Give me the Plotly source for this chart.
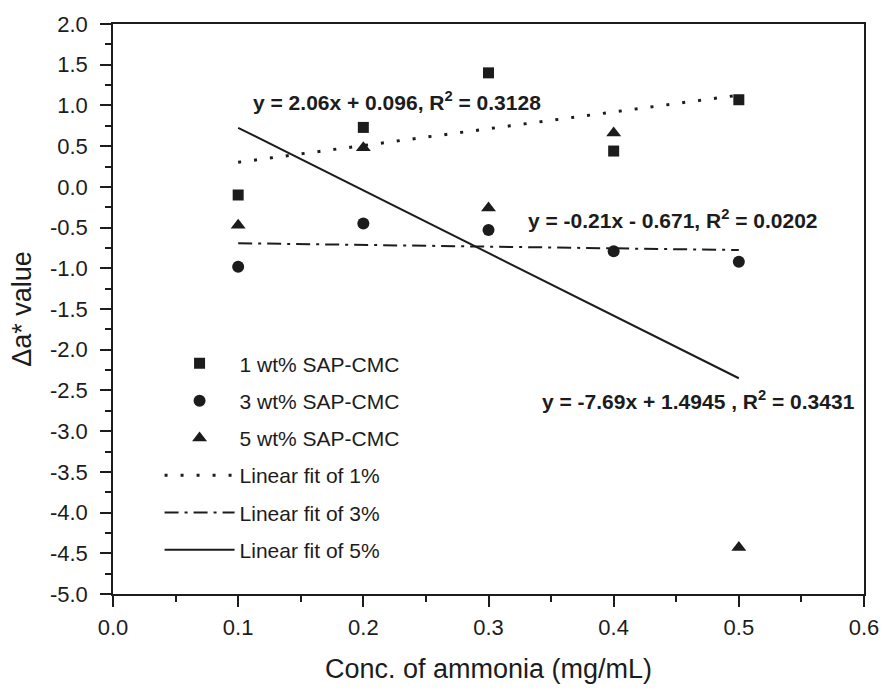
import plotly.graph_objects as go

conc = [0.1, 0.2, 0.3, 0.4, 0.5]
sap1 = [-0.10, 0.73, 1.40, 0.44, 1.07]
sap3 = [-0.98, -0.45, -0.53, -0.79, -0.92]
sap5 = [-0.47, 0.48, -0.26, 0.66, -4.43]

fit_x = [0.1, 0.5]
fit_slopes = [2.06, -0.21, -7.69]
fit_intercepts = [0.096, -0.671, 1.4945]
fit_labels = ["y = 2.06x + 0.096, R<sup>2</sup> = 0.3128",
              "y = -0.21x - 0.671, R<sup>2</sup> = 0.0202",
              "y = -7.69x + 1.4945 , R<sup>2</sup> = 0.3431"]
label_pos = [(0.110, 1.06), (0.330, -0.40), (0.341, -2.62)]

x_ticks = [0.0, 0.1, 0.2, 0.3, 0.4, 0.5, 0.6]
x_ticktext = ["0.0", "0.1", "0.2", "0.3", "0.4", "0.5", "0.6"]
y_ticks = [2.0, 1.5, 1.0, 0.5, 0.0, -0.5, -1.0, -1.5, -2.0, -2.5, -3.0, -3.5, -4.0, -4.5, -5.0]
y_ticktext = ["2.0", "1.5", "1.0", "0.5", "0.0", "-0.5", "-1.0", "-1.5", "-2.0", "-2.5",
              "-3.0", "-3.5", "-4.0", "-4.5", "-5.0"]

ink = "#1c1c1c"
font = "Liberation Sans, Arial, sans-serif"

fig = go.Figure()
for name, ys, sym, sz in [("1 wt% SAP-CMC", sap1, "square", 11),
                          ("3 wt% SAP-CMC", sap3, "circle", 12),
                          ("5 wt% SAP-CMC", sap5, "triangle-up", 13)]:
    fig.add_trace(go.Scatter(x=conc, y=ys, mode="markers", name=name, legendgroup=name,
                             marker=dict(symbol=sym, size=sz, color=ink)))

dashes = ["3px,13px", "14px,6px,3px,6px", "solid"]
widths = [3, 2, 2]
names = ["Linear fit of 1%", "Linear fit of 3%", "Linear fit of 5%"]
for a, b, d, w, n in zip(fit_slopes, fit_intercepts, dashes, widths, names):
    fig.add_trace(go.Scatter(x=fit_x, y=[a * x + b for x in fit_x], mode="lines", name=n,
                             legendgroup=n, line=dict(color=ink, width=w, dash=d)))

for (lx, ly), t in zip(label_pos, fit_labels):
    fig.add_annotation(x=lx, y=ly, text="<b>" + t + "</b>", showarrow=False,
                       xanchor="left", font=dict(size=21, color=ink, family=font))

axis_common = dict(showline=True, linecolor=ink, linewidth=1.5, mirror=True,
                   ticks="outside", ticklen=11, tickwidth=1.5, tickcolor=ink,
                   showgrid=False, zeroline=False,
                   tickfont=dict(size=22, color=ink, family=font))
fig.update_xaxes(range=[0, 0.6], tickmode="array", tickvals=x_ticks, ticktext=x_ticktext,
                 ticklabelstandoff=2,
                 minor=dict(dtick=0.05, tick0=0, ticks="outside", ticklen=6, tickcolor=ink, tickwidth=1.5),
                 title=dict(text="Conc. of ammonia (mg/mL)", font=dict(size=27, color=ink, family=font), standoff=20),
                 **axis_common)
fig.update_yaxes(range=[-5, 2], tickmode="array", tickvals=y_ticks, ticktext=y_ticktext,
                 ticklabelstandoff=8,
                 minor=dict(dtick=0.25, tick0=0, ticks="outside", ticklen=6, tickcolor=ink, tickwidth=1.5),
                 title=dict(text="Δa* value", font=dict(size=27, color=ink, family=font), standoff=10),
                 **axis_common)

fig.update_layout(width=891, height=691, plot_bgcolor="white", paper_bgcolor="white",
                  margin=dict(l=113, r=23, t=23, b=95),
                  legend=dict(x=0.062, y=0.44, xanchor="left", yanchor="top",
                              bgcolor="rgba(0,0,0,0)", tracegroupgap=7, itemwidth=70,
                              font=dict(size=21, color=ink, family=font)),
                  font=dict(family=font, color=ink))
fig.write_html("out.html")
